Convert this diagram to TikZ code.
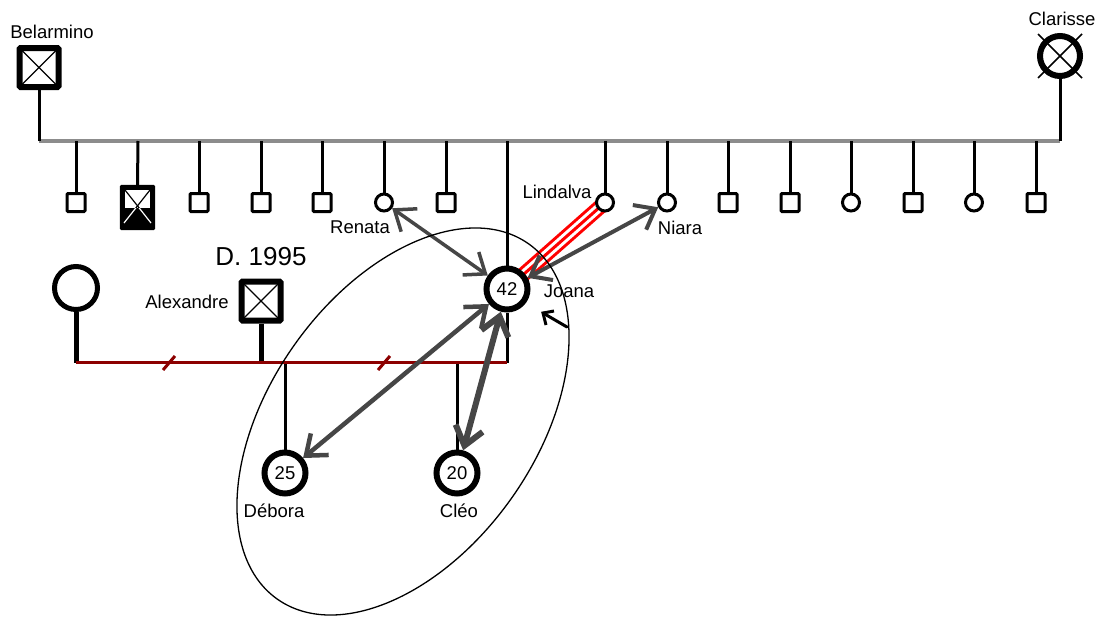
\documentclass[tikz,border=0pt]{standalone}
\usepackage{fontspec}
\setmainfont{Liberation Sans}
\usetikzlibrary{arrows.meta}
\definecolor{sibgray}{RGB}{140,140,140}
\definecolor{marred}{RGB}{140,0,0}
\definecolor{relgray}{RGB}{70,70,70}
\definecolor{tripred}{RGB}{255,0,0}
\pgfdeclarelayer{bg}
\pgfsetlayers{bg,main}
\begin{document}
\begin{tikzpicture}[x=1pt,y=-1pt,
 lbl/.style={font=\fontsize{18.5}{20}\selectfont, inner sep=0pt},
 male/.style={draw, rectangle, fill=white, line width=3pt, minimum size=18pt, inner sep=0pt, rounded corners=1pt},
 female/.style={draw, circle, fill=white, line width=3pt, minimum size=17pt, inner sep=0pt},
 bigmale/.style={male, line width=6pt, minimum size=39pt},
 bigfemale/.style={female, line width=6pt, minimum size=41pt, font=\fontsize{18.5}{20}\selectfont},
 xmark/.style={path picture={\draw[line width=1.2pt] (path picture bounding box.north west) -- (path picture bounding box.south east) (path picture bounding box.north east) -- (path picture bounding box.south west);}},
 kin/.style={line width=3pt},
 kinthick/.style={line width=5pt},
 sib/.style={line width=4pt, draw=sibgray},
 marr/.style={line width=3pt, draw=marred},
 rel/.style={line width=4pt, draw=relgray, {Straight Barb[length=18pt,width=28pt]}-{Straight Barb[length=18pt,width=28pt]}},
]
\useasboundingbox (0,0) rectangle (1103,616);

% parents of the sibling line
\node[bigmale, xmark] (bel) at (39,67.5) {};
\node[lbl] (belL) at (52,32) {Belarmino};
\node[female, line width=6pt, minimum size=40pt] (cla) at (1060,56) {};
\draw[line width=1.5pt] ([shift={(-22,-22)}]cla.center) -- ([shift={(22,22)}]cla.center)
  ([shift={(22,-22)}]cla.center) -- ([shift={(-22,22)}]cla.center);
\node[lbl] (claL) at (1062,19) {Clarisse};

\coordinate (sL) at (39,141);
\coordinate (sR) at (1060,141);
\draw[kin] (bel.south) -- (sL);
\draw[kin] (cla.south) -- (sR);

% siblings
\foreach \x/\s/\n in {76/male/c1, 199/male/c3, 261/male/c4, 322/male/c5, 384/female/c6, 446/male/c7,
  605/female/c8, 667/female/c9, 728/male/c10, 790/male/c11, 851/female/c12, 913/male/c13,
  974/female/c14, 1036/male/c15}{
  \node[\s] (\n) at (\x,202.5) {};
  \coordinate (s\n) at (\x,141);
  \draw[kin] (s\n) -- (\n.north);
}
% special sibling (deceased, lower half filled)
\node[minimum width=35pt, minimum height=45pt, inner sep=0pt] (c2) at (137.5,207.5) {};
\coordinate (sc2) at (138,141);
\draw[kin] (sc2) -- (c2.north);
\fill[black, rounded corners=1.5pt] (c2.north west) rectangle (c2.south east);
\fill[white] (125,190) rectangle (150,208);
\begin{scope}
  \clip (125,190) rectangle (150,208);
  \draw[line width=1.2pt] (125,190) -- (151,223) (150,190) -- (124,223);
\end{scope}
\begin{scope}
  \clip (121,208) rectangle (154,229);
  \draw[white, line width=1.2pt] (125,190) -- (151,223) (150,190) -- (124,223);
\end{scope}

\node[lbl] (renL) at (360,227) {Renata};
\node[lbl] (linL) at (557,192) {Lindalva};
\node[lbl] (niaL) at (680,228) {Niara};

% Joana's family
\node[bigfemale] (joa) at (507,289) {42};
\node[lbl] (joaL) at (569,291) {Joana};
\node[female, line width=5pt, minimum size=43pt] (wom) at (76,288) {};
\node[bigmale, xmark] (ale) at (261,301) {};
\node[lbl] (aleL) at (187,302) {Alexandre};
\node[font=\fontsize{26}{28}\selectfont, inner sep=0pt] (aleD) at (261,257) {D. 1995};
\node[bigfemale] (deb) at (285,473) {25};
\node[lbl] (debL) at (274,511) {Débora};
\node[bigfemale] (cle) at (457,473) {20};
\node[lbl] (cleL) at (459,511) {Cléo};

\coordinate (sJ) at (507,141);
\coordinate (mL) at (76,362.5);
\coordinate (mA) at (261,362.5);
\coordinate (mD) at (285,362.5);
\coordinate (mC) at (457,362.5);
\coordinate (mR) at (507,362.5);

\begin{pgfonlayer}{bg}
  \draw[sib] (sL) -- (sR);
  \draw[kin] (sJ) -- (joa.center);
  \draw[line width=15pt, tripred] (c8.center) -- (joa.center);
  \draw[line width=9pt, white] (c8.center) -- (joa.center);
  \draw[line width=3pt, tripred] (c8.center) -- (joa.center);
\end{pgfonlayer}

\draw[kin] (joa) -- (mR);
\draw[kinthick] (wom) -- (mL);
\draw[kinthick] (ale) -- (mA);
\draw[kin] (mD) -- (deb);
\draw[kin] (mC) -- (cle);
\draw[marr] (mL) -- (mR);
\draw[marr] (163,370) -- (175,356);
\draw[marr] (378,370) -- (390,356);

% emotional relations
\draw[rel, line width=3.5pt] (c6) -- (joa);
\draw[rel] (joa) -- (c9);
\draw[rel, line width=4.5pt] (joa) -- (deb);
\draw[rel, line width=6pt] (joa) -- (cle);

% grouping ellipse
\draw[line width=1.3pt, rotate around={54.7:(403,421.5)}] (403,421.5) ellipse [x radius=217.6, y radius=132.9];
\draw[line width=3pt, line cap=round] (567,327) -- (543,313);
\draw[line width=3pt, line join=miter] (554,311) -- (543,313) -- (546,325);
\end{tikzpicture}
\end{document}
